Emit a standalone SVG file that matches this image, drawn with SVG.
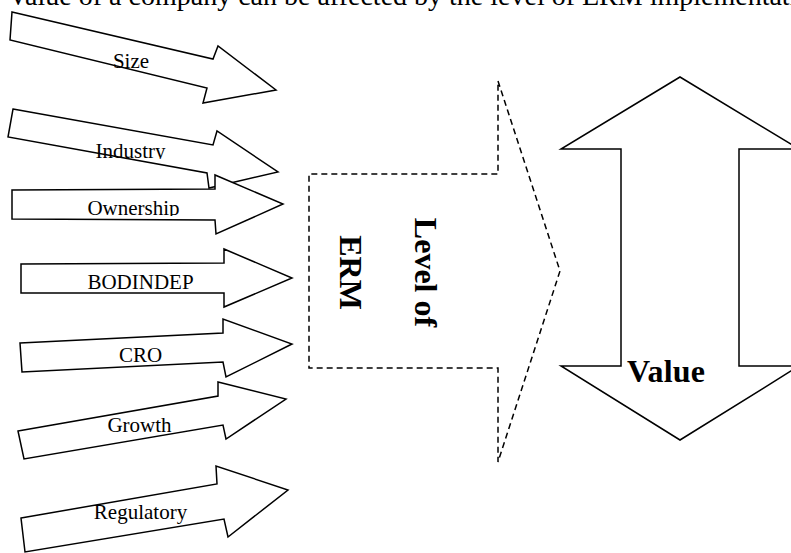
<svg xmlns="http://www.w3.org/2000/svg" width="791" height="553" viewBox="0 0 791 553">
  <defs>
    <style>
      .arr { fill: #ffffff; stroke: #000000; stroke-width: 1.5; stroke-linejoin: miter; }
      .dash { fill: #ffffff; stroke: #000000; stroke-width: 1.5; stroke-dasharray: 6 4; }
      .lbl { font-family: "Liberation Serif", "Times New Roman", serif; font-size: 21px; fill: #000000; text-anchor: middle; }
      .big { font-family: "Liberation Serif", "Times New Roman", serif; font-size: 32px; font-weight: bold; fill: #000000; }
      .title { font-family: "Liberation Serif", "Times New Roman", serif; font-size: 28px; fill: #000000; }
    </style>
    <clipPath id="clipInd"><rect x="0" y="120" width="300" height="39"/></clipPath>
    <clipPath id="clipOwn"><rect x="0" y="180" width="300" height="36"/></clipPath>
  </defs>
  <rect x="0" y="0" width="791" height="553" fill="#ffffff"/>

  <text class="title" x="8" y="5">Value of a company can be affected by the level of ERM implementation</text>

  <g id="value">
    <polygon class="arr" points="680,77 799,149 739,149 739,366 799,366 680,440 561,366 621,366 621,149 561,149"/>
    <text class="big" x="627" y="382" textLength="78">Value</text>
  </g>

  <g id="erm">
    <polygon class="dash" points="498,81 560,271 498,462 498,368 309,368 309,174 498,174"/>
    <text class="big" text-anchor="middle" transform="translate(415,272.5) rotate(90)">Level of</text>
    <text class="big" text-anchor="middle" transform="translate(340,272.5) rotate(90)">ERM</text>
  </g>

  <g id="size">
    <polygon class="arr" points="12,12 213,59 218,46 276,90 203,103 207,88 10,40"/>
    <text class="lbl" x="131" y="68">Size</text>
  </g>

  <g id="industry">
    <polygon class="arr" points="13,109 213,145 217,131 278,172 209,188 207,173 8,137"/>
    <text class="lbl" x="130.5" y="158" clip-path="url(#clipInd)">Industry</text>
  </g>

  <g id="ownership">
    <polygon class="arr" points="12,190 215,189 215,175 283,204 216,234 215,220 12,219"/>
    <text class="lbl" x="133.5" y="215" clip-path="url(#clipOwn)">Ownership</text>
  </g>

  <g id="bodindep">
    <polygon class="arr" points="21,264 224,263 224,249 292,278 224,307 224,293 21,293"/>
    <text class="lbl" x="140.5" y="289">BODINDEP</text>
  </g>

  <g id="cro">
    <polygon class="arr" points="20,343 223,333 223,319 292,344 226,377 223,362 22,372"/>
    <text class="lbl" x="140.5" y="362">CRO</text>
  </g>

  <g id="growth">
    <polygon class="arr" points="18,431 218,396 218,382 286,399 226,439 223,425 24,459"/>
    <text class="lbl" x="139.5" y="432">Growth</text>
  </g>

  <g id="regulatory">
    <polygon class="arr" points="21,518 217,484 216,466 288,490 228,537 224,519 25,552"/>
    <text class="lbl" x="140.5" y="519">Regulatory</text>
  </g>
</svg>
